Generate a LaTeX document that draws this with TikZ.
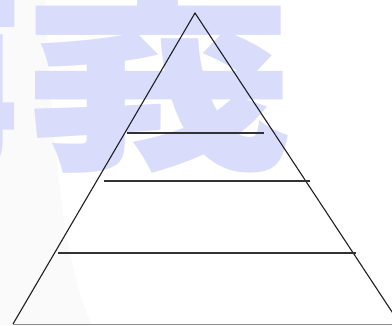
\documentclass[tikz,border=0pt]{standalone}
\usepackage{fontspec}
\newfontfamily\cjk{Noto Sans CJK TC}
\usetikzlibrary{calc}
\definecolor{markcol}{RGB}{217,221,251}
\definecolor{shadecol}{RGB}{250,250,250}
\definecolor{edgecol}{RGB}{30,30,36}
\definecolor{tiercol}{RGB}{50,50,52}
\definecolor{basecol}{RGB}{140,140,140}
\tikzset{
  watermark/.style={inner sep=0pt, anchor=base west, text=markcol, font=\cjk\bfseries\fontsize{272}{272}\selectfont},
  edge/.style={draw=edgecol, line width=1.1pt, line join=miter},
  tier/.style={draw=tiercol, line width=1.6pt},
  baseline/.style={draw=basecol, line width=1pt},
}

\begin{document}
\begin{tikzpicture}[x=1pt,y=-1pt]
  \useasboundingbox (0,0) rectangle (392,325);
  \clip (0,0) rectangle (392,325);
  \fill[white] (0,0) rectangle (392,325);
  \fill[shadecol] (0,0) -- (45,0) .. controls (52,120) and (60,260) .. (92,325) -- (0,325) -- cycle;
  \node[watermark] (mark) at (-250,147) {講義};
  % pyramid outline
  \coordinate (apex) at (195,13);
  \coordinate (lcorner) at (13,324);
  \coordinate (rcorner) at (400,324);
  \draw[edge] (lcorner) -- (apex) -- (rcorner);
  \draw[baseline] (lcorner) -- (392,324);
  % tiers
  \coordinate (t1l) at (127,133);  \coordinate (t1r) at (264,133);
  \coordinate (t2l) at (104,181);  \coordinate (t2r) at (310,181);
  \coordinate (t3l) at (58,253);   \coordinate (t3r) at (356,253);
  \draw[tier] (t1l) -- (t1r);
  \draw[tier] (t2l) -- (t2r);
  \draw[tier] (t3l) -- (t3r);
\end{tikzpicture}
\end{document}
